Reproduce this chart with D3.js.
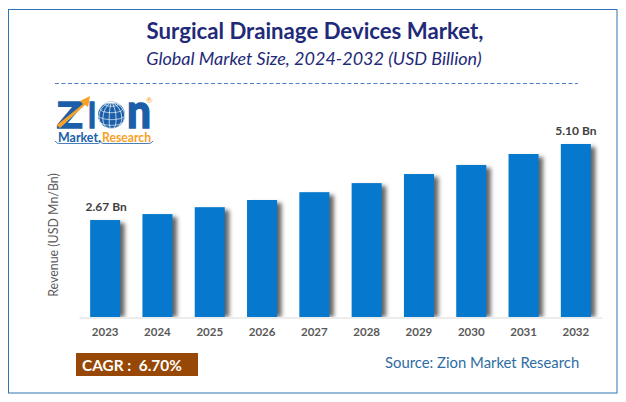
<!DOCTYPE html>
<html>
<head>
<meta charset="utf-8">
<script src="https://cdn.jsdelivr.net/npm/d3@7"></script>
<style>
  html, body { margin: 0; padding: 0; background: #fff; }
  svg { display: block; }
  text { font-family: Lato, "Open Sans", sans-serif; }
</style>
</head>
<body>
<div id="chart"></div>
<script>
// chart data
var years = ["2023", "2024", "2025", "2026", "2027", "2028", "2029", "2030", "2031", "2032"];
var revenue = [2.67, 2.86, 3.08, 3.31, 3.56, 3.85, 4.14, 4.43, 4.78, 5.10];
var barLabels = ["2.67 Bn", "", "", "", "", "", "", "", "", "5.10 Bn"];

var width = 626, height = 402;

var svg = d3.select("#chart").append("svg")
    .attr("width", width)
    .attr("height", height);

var defs = svg.append("defs");

// blurred shadow at the right of the bars
defs.append("filter").attr("id", "blur")
    .attr("x", "-30%").attr("width", "160%")
    .append("feGaussianBlur").attr("stdDeviation", 2);

// outer frame
svg.append("rect")
    .attr("x", 8.5).attr("y", 9.5)
    .attr("width", 608.5).attr("height", 383.5)
    .attr("fill", "none")
    .attr("stroke", "#2e75b6")
    .attr("stroke-width", 1);

// titles
svg.append("text")
    .attr("x", 315).attr("y", 38.5)
    .attr("text-anchor", "middle")
    .attr("font-size", 22.2).attr("font-weight", 700)
    .attr("fill", "#1f2a78")
    .text("Surgical Drainage Devices Market,");

svg.append("text")
    .attr("x", 314).attr("y", 65)
    .attr("text-anchor", "middle")
    .attr("font-size", 18).attr("font-style", "italic")
    .attr("fill", "#1f2a78")
    .text("Global Market Size, 2024-2032 (USD Billion)");

svg.append("line")
    .attr("x1", 55).attr("x2", 578)
    .attr("y1", 83.5).attr("y2", 83.5)
    .attr("stroke", "#4f7fc4")
    .attr("stroke-dasharray", "4 2.5");

// scales
var x = d3.scaleBand()
    .domain(years)
    .range([79, 602])
    .paddingInner(0.426)
    .paddingOuter(0.213);

var y = d3.scaleLinear()
    .domain([-0.43, 5.10])
    .range([317, 144]);

// bar shadows
svg.append("g").selectAll("rect")
    .data(revenue)
    .enter().append("rect")
    .attr("x", (d, i) => x(years[i]) + 4.5)
    .attr("y", d => y(d) + 3)
    .attr("width", x.bandwidth())
    .attr("height", d => y.range()[0] - y(d) - 3)
    .attr("fill", "#666")
    .attr("filter", "url(#blur)");

// hide the blur under the baseline
svg.append("rect")
    .attr("x", 70).attr("y", 317).attr("width", 540).attr("height", 8)
    .attr("fill", "#fff");

// bars
svg.append("g").selectAll("rect")
    .data(revenue)
    .enter().append("rect")
    .attr("x", (d, i) => x(years[i]))
    .attr("y", d => y(d))
    .attr("width", x.bandwidth())
    .attr("height", d => y.range()[0] - y(d))
    .attr("fill", "#0678cd");

// x axis
var xAxis = svg.append("g")
    .attr("transform", "translate(0,317.5)")
    .call(d3.axisBottom(x).tickSize(0).tickPadding(10));

xAxis.select(".domain").attr("stroke", "#d9d9d9");
xAxis.selectAll("text")
    .attr("font-size", 11.5).attr("font-weight", 700)
    .attr("fill", "#595959")
    .style("font-family", "Lato, sans-serif");

// first and last value labels
svg.append("g").selectAll("text")
    .data(revenue)
    .enter().append("text")
    .attr("x", (d, i) => x(years[i]) + x.bandwidth() / 2 + (i == 0 ? 1 : 0))
    .attr("y", d => y(d) - 9.5)
    .attr("text-anchor", "middle")
    .attr("font-size", 12).attr("font-weight", 700)
    .attr("fill", "#404040")
    .text((d, i) => barLabels[i]);

// y axis title
svg.append("text")
    .attr("transform", "translate(57.5,235) rotate(-90)")
    .attr("text-anchor", "middle")
    .attr("font-size", 12.4)
    .attr("fill", "#595959")
    .text("Revenue (USD Mn/Bn)");

// cagr box
svg.append("rect")
    .attr("x", 76).attr("y", 353)
    .attr("width", 122).attr("height", 23)
    .attr("fill", "#974706");

svg.append("text")
    .attr("x", 82).attr("y", 370.5)
    .attr("font-size", 15.4).attr("font-weight", 700)
    .attr("fill", "#fff")
    .attr("xml:space", "preserve")
    .text("CAGR :  6.70%");

// source
svg.append("text")
    .attr("x", 385).attr("y", 368)
    .attr("font-size", 14.85)
    .attr("fill", "#2e6da4")
    .text("Source: Zion Market Research");

// logo
var logo = svg.append("g");
var logoBlue = "#1a5fa8", logoOrange = "#f7a128";

logo.append("text")
    .attr("x", 57).attr("y", 128)
    .attr("font-size", 36).attr("font-weight", 900)
    .attr("textLength", 26).attr("lengthAdjust", "spacingAndGlyphs")
    .attr("fill", logoBlue)
    .attr("stroke", logoBlue).attr("stroke-width", 1.4)
    .text("Z");

logo.append("text")
    .attr("x", 88).attr("y", 128)
    .attr("font-size", 36).attr("font-weight", 900)
    .attr("textLength", 8).attr("lengthAdjust", "spacingAndGlyphs")
    .attr("fill", logoBlue)
    .attr("stroke", logoBlue).attr("stroke-width", 1.4)
    .text("I");

// arrow over the Z
logo.append("path")
    .attr("d", "M57 125 L83 104 L80 101 L90 96 L88 107 L85 105 L60 128 Z")
    .attr("fill", logoOrange);

// globe with a white grid
var globe = d3.geoOrthographic()
    .scale(13.5)
    .translate([111.5, 115])
    .rotate([-70, -20]);

logo.append("circle")
    .attr("cx", 111.5).attr("cy", 115).attr("r", 13.5)
    .attr("fill", logoBlue);

logo.append("path")
    .datum(d3.geoGraticule().step([30, 30])())
    .attr("d", d3.geoPath(globe))
    .attr("fill", "none")
    .attr("stroke", "#fff")
    .attr("stroke-width", 0.7);

logo.append("text")
    .attr("x", 127).attr("y", 128)
    .attr("font-size", 48).attr("font-weight", 900)
    .attr("textLength", 24).attr("lengthAdjust", "spacingAndGlyphs")
    .attr("fill", logoBlue)
    .attr("stroke", logoBlue).attr("stroke-width", 1.4)
    .text("n");

logo.append("text")
    .attr("x", 146).attr("y", 103)
    .attr("font-size", 8)
    .attr("fill", logoOrange)
    .text("®");

logo.append("text")
    .attr("x", 58).attr("y", 142)
    .attr("font-size", 13).attr("font-weight", 700)
    .attr("textLength", 43).attr("lengthAdjust", "spacingAndGlyphs")
    .attr("fill", logoBlue)
    .text("Market.");

logo.append("text")
    .attr("x", 102).attr("y", 142)
    .attr("font-size", 13).attr("font-weight", 700)
    .attr("textLength", 49).attr("lengthAdjust", "spacingAndGlyphs")
    .attr("fill", logoOrange)
    .text("Research");

logo.append("path")
    .attr("d", "M55 141 Q57 144 60 143.5 L98 143.5 Q100 143.5 100.5 141 Q101 143.5 103 143.5 L148 143.5 Q151 144 153 141")
    .attr("fill", "none")
    .attr("stroke", logoBlue)
    .attr("stroke-width", 0.8);
</script>
</body>
</html>
